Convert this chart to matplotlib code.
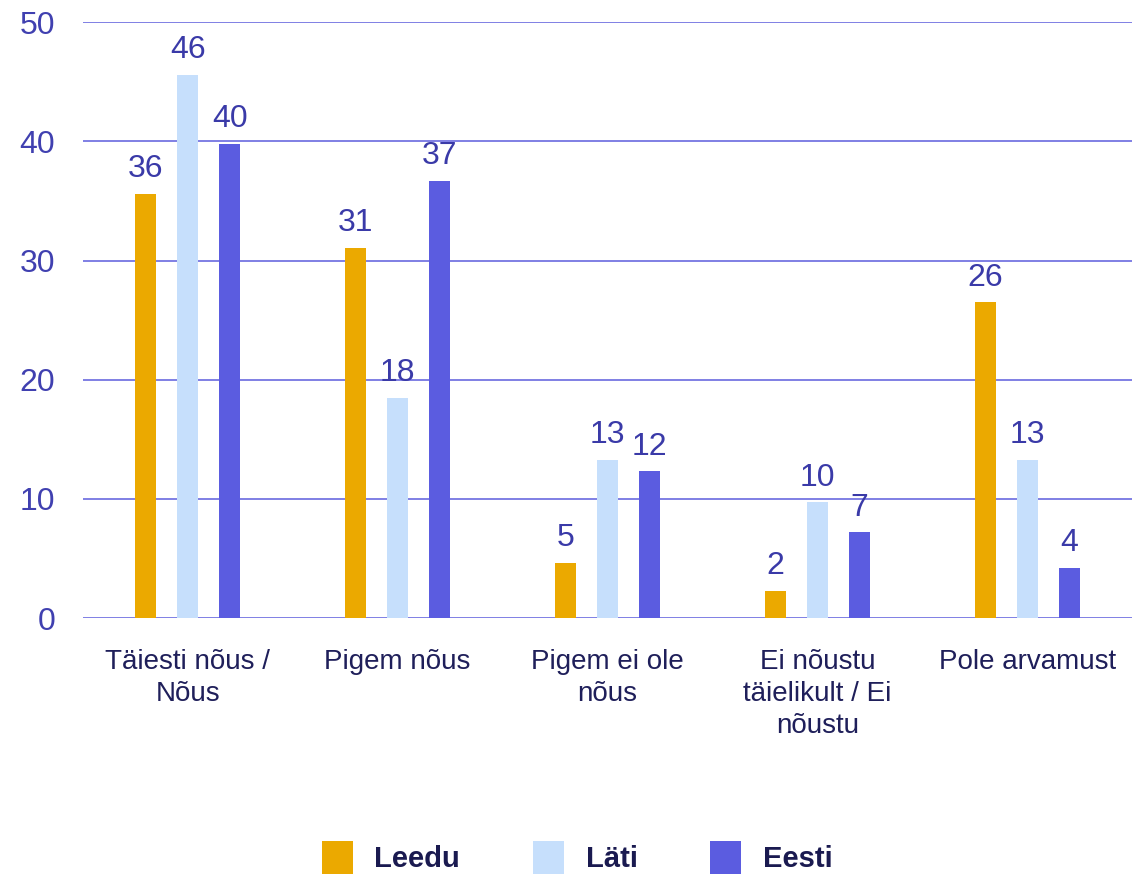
import numpy as np
import matplotlib.pyplot as plt

categories = ["Täiesti nõus /\nNõus", "Pigem nõus", "Pigem ei ole\nnõus",
              "Ei nõustu\ntäielikult / Ei\nnõustu", "Pole arvamust"]
leedu = [35.6, 31.1, 4.6, 2.3, 26.5]
lati = [45.6, 18.5, 13.3, 9.7, 13.3]
eesti = [39.8, 36.7, 12.3, 7.2, 4.2]
series = [("Leedu", leedu, "#EBA900"), ("Läti", lati, "#C6DFFC"), ("Eesti", eesti, "#5B5CE0")]

plt.rcParams['font.family'] = ['Liberation Sans', 'DejaVu Sans']

fig = plt.figure(figsize=(11.32, 8.76), dpi=100)
ax = fig.add_axes([0.0733, 0.2945, 0.9267, 0.680])

x = np.arange(len(categories))
width = 0.1
offsets = [-0.2, 0.0, 0.2]
for (name, vals, color), off in zip(series, offsets):
    bars = ax.bar(x + off, vals, width, color=color, label=name, zorder=3)
    for b, v in zip(bars, vals):
        ax.annotate(f"{v:.0f}", (b.get_x() + b.get_width() / 2, v),
                    xytext=(0, 7), textcoords="offset points",
                    ha="center", va="bottom", fontsize=23, color="#3A3AA8")

ax.set_xlim(-0.5, 4.5)
ax.set_ylim(0, 50)
ax.set_yticks(range(0, 51, 10))
ax.yaxis.grid(True, color="#6A6ADF", linewidth=1.2, zorder=0)
ax.set_axisbelow(True)
for s in ax.spines.values():
    s.set_visible(False)
ax.tick_params(axis="y", length=0, pad=20, labelsize=23, labelcolor="#4040B0")
ax.tick_params(axis="x", length=0, pad=22, labelsize=20, labelcolor="#1F1F5A")
ax.set_xticks(x)
ax.set_xticklabels(categories, linespacing=1.3, va="top")

fig.legend(loc="lower center", ncol=3, bbox_to_anchor=(0.51, -0.028), frameon=False,
           prop={"size": 21, "weight": "bold"}, labelcolor="#1A1A50",
           handlelength=1.05, handleheight=1.4, columnspacing=2.5, handletextpad=0.75)

fig.savefig("out.png", dpi=100)
